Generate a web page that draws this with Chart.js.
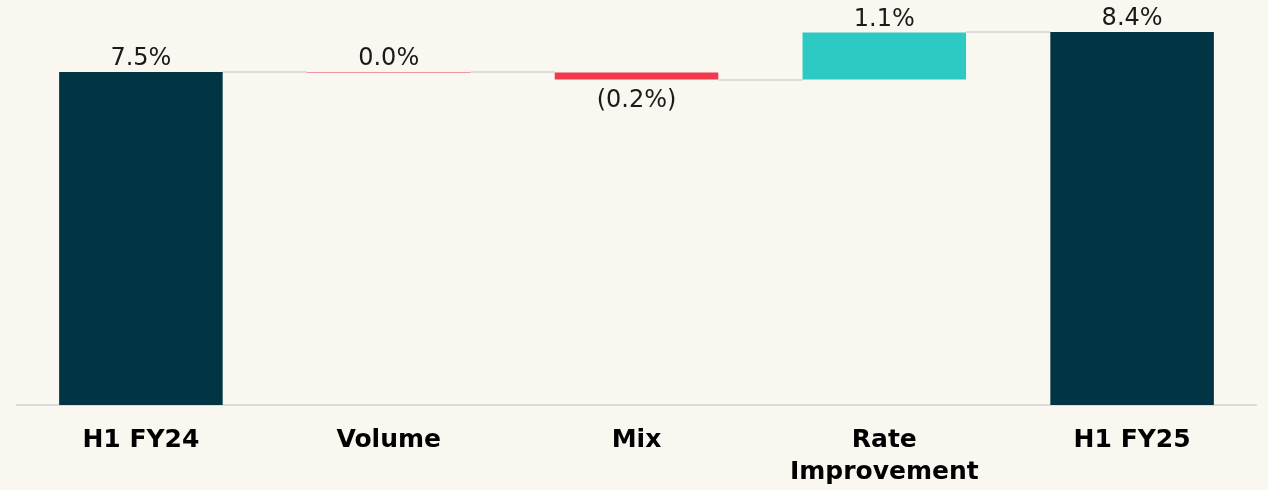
<!DOCTYPE html>
<html>
<head>
<meta charset="utf-8">
<script src="https://cdn.jsdelivr.net/npm/chart.js@4/dist/chart.umd.min.js"></script>
<style>
    html, body { margin: 0; padding: 0; background: #faf7f0; }
    #wrap { width: 1268px; height: 490px; position: relative; }
</style>
</head>
<body>
<div id="wrap"><canvas id="bridgeChart"></canvas></div>
<script>
// bridge data (percent)
const categories = ['H1 FY24', 'Volume', 'Mix', ['Rate', 'Improvement'], 'H1 FY25'];
const barTypes = ['total', 'delta', 'delta', 'delta', 'total'];
const barValues = [7.5, -0.01, -0.16, 1.06, 8.4];
const valueLabels = ['7.5%', '0.0%', '(0.2%)', '1.1%', '8.4%'];

const NAVY = '#023544';
const TEAL = '#2ccac3';
const RED = '#f0394f';

// build floating ranges from running total
let running = 0;
const ranges = [];
const colors = [];
const levels = [];
barValues.forEach((v, i) => {
    if (barTypes[i] === 'total') {
        ranges.push([0, v]);
        running = v;
        colors.push(NAVY);
    } else {
        ranges.push([running, running + v]);
        running = running + v;
        colors.push(v < 0 ? RED : TEAL);
    }
    levels.push(running);
});

const connectors = {
    id: 'connectors',
    beforeDatasetsDraw(chart) {
        const c = chart.ctx;
        const y = chart.scales.y;
        const bars = chart.getDatasetMeta(0).data;
        c.save();
        c.strokeStyle = '#dcdcdc';
        c.lineWidth = 2;
        for (let i = 0; i < bars.length - 1; i++) {
            const py = Math.round(y.getPixelForValue(levels[i]));
            c.beginPath();
            c.moveTo(bars[i].x + bars[i].width / 2, py);
            c.lineTo(bars[i + 1].x - bars[i + 1].width / 2, py);
            c.stroke();
        }
        c.restore();
    }
};

const barLabels = {
    id: 'barLabels',
    afterDatasetsDraw(chart) {
        const c = chart.ctx;
        const bars = chart.getDatasetMeta(0).data;
        c.save();
        c.font = '24px "DejaVu Sans"';
        c.fillStyle = '#1a1a1a';
        c.textAlign = 'center';
        bars.forEach((bar, i) => {
            const top = Math.min(bar.y, bar.base);
            const bottom = Math.max(bar.y, bar.base);
            if (barTypes[i] === 'delta' && barValues[i] < -0.05) {
                c.textBaseline = 'top';
                c.fillText(valueLabels[i], bar.x, bottom + 9);
            } else {
                c.textBaseline = 'bottom';
                c.fillText(valueLabels[i], bar.x, top - 1);
            }
        });
        c.restore();
    }
};

new Chart(document.getElementById('bridgeChart'), {
    type: 'bar',
    data: {
        labels: categories,
        datasets: [{
            data: ranges,
            backgroundColor: colors,
            borderWidth: 0,
            barPercentage: 0.66,
            categoryPercentage: 1.0
        }]
    },
    options: {
        responsive: true,
        maintainAspectRatio: false,
        animation: false,
        layout: { padding: { top: 32, left: 17, right: 12, bottom: 0 } },
        plugins: {
            legend: { display: false },
            tooltip: { enabled: false }
        },
        scales: {
            x: {
                grid: { display: false, drawTicks: false },
                border: { color: '#dcdcdc', width: 2 },
                afterFit(axis) { axis.height = 85; },
                ticks: {
                    padding: 19,
                    color: '#000',
                    font: { family: '"DejaVu Sans"', size: 25, weight: 'bold', lineHeight: 1.28 },
                    maxRotation: 0,
                    autoSkip: false
                }
            },
            y: {
                display: false,
                min: 0,
                max: 8.4
            }
        }
    },
    plugins: [connectors, barLabels]
});
</script>
</body>
</html>
